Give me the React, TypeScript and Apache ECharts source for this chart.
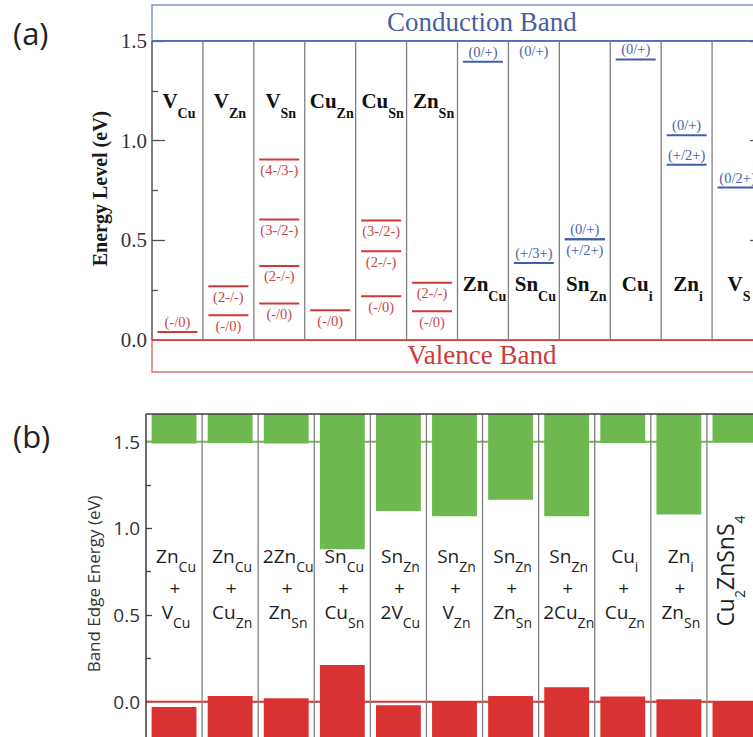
import React, { useEffect, useRef } from 'react';
import * as echarts from 'echarts';

// ---------- (a) isolated intrinsic defects ----------
const defectsA = ['V_{Cu}', 'V_{Zn}', 'V_{Sn}', 'Cu_{Zn}', 'Cu_{Sn}', 'Zn_{Sn}', 'Zn_{Cu}', 'Sn_{Cu}', 'Sn_{Zn}', 'Cu_{i}', 'Zn_{i}', 'V_{S}'];
const defectTypeA = ['acceptor', 'acceptor', 'acceptor', 'acceptor', 'acceptor', 'acceptor', 'donor', 'donor', 'donor', 'donor', 'donor', 'donor'];

// transition levels (eV above the VBM)
const levelDefect = [0, 1, 1, 2, 2, 2, 2, 3, 4, 4, 4, 5, 5, 6, 7, 7, 8, 8, 9, 10, 10, 11];
const levelEnergy = [0.04, 0.27, 0.125, 0.905, 0.605, 0.372, 0.184, 0.15, 0.6, 0.445, 0.22, 0.287, 0.145, 1.395, 1.5, 0.386, 0.505, 0.505, 1.407, 1.027, 0.879, 0.765];
const levelLabel = ['(-/0)', '(2-/-)', '(-/0)', '(4-/3-)', '(3-/2-)', '(2-/-)', '(-/0)', '(-/0)', '(3-/2-)', '(2-/-)', '(-/0)', '(2-/-)', '(-/0)', '(0/+)', '(0/+)', '(+/3+)', '(0/+)', '(+/2+)', '(0/+)', '(0/+)', '(+/2+)', '(0/2+)'];
const levelLabelSide = ['above', 'below', 'below', 'below', 'below', 'below', 'below', 'below', 'below', 'below', 'below', 'below', 'below', 'above', 'below', 'above', 'above', 'below', 'above', 'above', 'above', 'above'];

const bandNamesA = ['Conduction Band', 'Valence Band'];
const bandEdgesA = [1.5, 0.0];
const yTicksA = [0.0, 0.5, 1.0, 1.5];
const yMinorTicksA = [0.25, 0.75, 1.25];

// ---------- (b) defect complexes ----------
const complexesB = ['Zn_{Cu}', 'Zn_{Cu}', '2Zn_{Cu}', 'Sn_{Cu}', 'Sn_{Zn}', 'Sn_{Zn}', 'Sn_{Zn}', 'Sn_{Zn}', 'Cu_{i}', 'Zn_{i}', 'Cu_{2}ZnSnS_{4}'];
const partnersB = ['V_{Cu}', 'Cu_{Zn}', 'Zn_{Sn}', 'Cu_{Sn}', '2V_{Cu}', 'V_{Zn}', 'Zn_{Sn}', '2Cu_{Zn}', 'Cu_{Zn}', 'Zn_{Sn}', ''];
const cbmB = [1.49, 1.492, 1.49, 0.88, 1.1, 1.07, 1.165, 1.07, 1.492, 1.08, 1.5];
const vbmB = [-0.03, 0.033, 0.02, 0.212, -0.02, 0.0, 0.033, 0.083, 0.03, 0.014, 0.0];
const hostEdgesB = [1.5, 0.0];
const yTicksB = [0.0, 0.5, 1.0, 1.5];
const yMinorTicksB = [0.25, 0.75, 1.25];

// ---------- layout & style ----------
const CHART_W = 780;
const CHART_H = 760;
const Y_A = { min: -0.16, max: 1.68 };
const Y_B = { min: -0.3, max: 1.66 };
const ROW_E_A = { acceptor: 1.2, donor: 0.28 };
const ROWS_E_B = [0.84, 0.655, 0.52];
const HOST_LABEL_E = 0.754;

const SERIF = 'Liberation Serif';
const SANS = 'Open Sans';
const RED = '#d03838';
const BLUE = '#3f5fa8';
const RED_TEXT = '#c94646';
const BLUE_TEXT = '#4862a6';
const GREEN = '#6db84f';
const BAR_RED = '#d93232';

type ChemStyle = { family: string; weight: string; size: number; subSize: number; drop: number; color: string };
const CHEM_A: ChemStyle = { family: SERIF, weight: 'bold', size: 21, subSize: 14, drop: 10, color: '#111' };
const CHEM_B: ChemStyle = { family: SANS, weight: 'normal', size: 19, subSize: 14, drop: 9, color: '#1e1e1e' };
const CHEM_HOST: ChemStyle = { family: SANS, weight: 'normal', size: 23, subSize: 14, drop: 11, color: '#1e1e1e' };

let measureCtx: CanvasRenderingContext2D | null = null;
function textWidth(text: string, font: string): number {
  if (!measureCtx) measureCtx = document.createElement('canvas').getContext('2d');
  measureCtx!.font = font;
  return measureCtx!.measureText(text).width;
}

// "Zn_{Cu}" -> [{t:'Zn'}, {t:'Cu', sub:true}]
function parseChem(s: string) {
  const out: { t: string; sub: boolean }[] = [];
  const re = /_\{([^}]*)\}/g;
  let last = 0;
  let m: RegExpExecArray | null;
  while ((m = re.exec(s))) {
    if (m.index > last) out.push({ t: s.slice(last, m.index), sub: false });
    out.push({ t: m[1], sub: true });
    last = re.lastIndex;
  }
  if (last < s.length) out.push({ t: s.slice(last), sub: false });
  return out;
}

function textStyle(text: string, size: number, family: string, weight: string, fill: string, align = 'center') {
  return {
    text,
    fill,
    fontSize: size,
    fontFamily: family,
    fontWeight: weight,
    align,
    textAlign: align,
    verticalAlign: 'middle',
    textVerticalAlign: 'middle',
  };
}

// chemical label centred on (cx, cy); cy is the middle of the main glyphs
function chemGroup(label: string, cx: number, cy: number, st: ChemStyle, rotation = 0) {
  const segs = parseChem(label);
  const mainFont = `${st.weight} ${st.size}px "${st.family}"`;
  const subFont = `${st.weight} ${st.subSize}px "${st.family}"`;
  const widths = segs.map((sg) => textWidth(sg.t, sg.sub ? subFont : mainFont));
  const total = widths.reduce((a, b) => a + b, 0);
  let x = -total / 2;
  const subY = st.size * 0.35 + st.drop - st.subSize * 0.35;
  const children = segs.map((sg, k) => {
    const el = {
      type: 'text',
      x,
      y: sg.sub ? subY : 0,
      style: textStyle(sg.t, sg.sub ? st.subSize : st.size, st.family, st.weight, st.color, 'left'),
    };
    x += widths[k];
    return el;
  });
  return { type: 'group', x: cx, y: cy, rotation, children };
}

// ---------- render functions: panel (a) ----------
const renderBandsA = (params: any, api: any) => {
  const k = params.dataIndex;
  const edge = bandEdgesA[k];
  const isCb = k === 0;
  const n = defectsA.length;
  const [x0, yEdge] = api.coord([0, edge]);
  const [x1, yOuter] = api.coord([n, isCb ? Y_A.max : Y_A.min]);
  const top = Math.min(yEdge, yOuter);
  const h = Math.abs(yOuter - yEdge);
  const boxColor = isCb ? '#8095c8' : '#e07272';
  const edgeColor = isCb ? '#4f6db2' : '#d04444';
  const textPos = api.coord([n * 0.54, edge]);
  return {
    type: 'group',
    children: [
      { type: 'rect', shape: { x: x0, y: top, width: x1 - x0, height: h }, style: { fill: '#fff', stroke: boxColor, lineWidth: 1.5 } },
      { type: 'line', shape: { x1: x0, y1: yEdge, x2: x1, y2: yEdge }, style: { stroke: edgeColor, lineWidth: 1.6 } },
      {
        type: 'text',
        x: textPos[0],
        y: top + h / 2 - 1,
        style: textStyle(bandNamesA[k], 27, SERIF, 'normal', isCb ? '#46609f' : '#cc3a3a'),
      },
    ],
  };
};

const renderDividersA = (params: any, api: any) => {
  const b = params.dataIndex;
  const [x, y0] = api.coord([b, bandEdgesA[1]]);
  const [, y1] = api.coord([b, bandEdgesA[0]]);
  return {
    type: 'line',
    shape: { x1: x, y1: y0, x2: x, y2: y1 },
    style: { stroke: b === 0 ? '#555' : '#808080', lineWidth: b === 0 ? 1.5 : 1.3 },
  };
};

const renderLevelsA = (params: any, api: any) => {
  const j = params.dataIndex;
  const d = levelDefect[j];
  const E = levelEnergy[j];
  const donor = defectTypeA[d] === 'donor';
  const [cx, cy] = api.coord([d + 0.5, E]);
  const children: any[] = [];
  if (E > bandEdgesA[1] && E < bandEdgesA[0]) {
    children.push({
      type: 'line',
      shape: { x1: cx - 20, y1: cy, x2: cx + 20, y2: cy },
      style: { stroke: donor ? BLUE : RED, lineWidth: 2 },
    });
  }
  const dy = levelLabelSide[j] === 'above' ? -10 : 10.5;
  children.push({
    type: 'text',
    x: cx,
    y: cy + dy,
    style: textStyle(levelLabel[j], 14.5, SERIF, 'normal', donor ? BLUE_TEXT : RED_TEXT),
  });
  return { type: 'group', children };
};

const renderDefectLabelsA = (params: any, api: any) => {
  const i = params.dataIndex;
  const rowE = defectTypeA[i] === 'acceptor' ? ROW_E_A.acceptor : ROW_E_A.donor;
  const [cx, cy] = api.coord([i + 0.5, rowE]);
  return chemGroup(defectsA[i], cx + 1.5, cy, CHEM_A);
};

// ---------- render functions: panel (b) ----------
const renderHostEdgesB = (params: any, api: any) => {
  const k = params.dataIndex;
  const E = hostEdgesB[k];
  const [x1, y] = api.coord([0, E]);
  const [x2] = api.coord([complexesB.length, E]);
  return { type: 'line', shape: { x1, y1: y, x2, y2: y }, style: { stroke: k === 0 ? GREEN : BAR_RED, lineWidth: 2 } };
};

const renderBarsB = (params: any, api: any) => {
  const i = params.dataIndex;
  const [xl, yTop] = api.coord([i + 0.1, Y_B.max]);
  const [xr, yC] = api.coord([i + 0.9, cbmB[i]]);
  const [, yV] = api.coord([i, vbmB[i]]);
  const [, yBot] = api.coord([i, Y_B.min]);
  return {
    type: 'group',
    children: [
      { type: 'rect', shape: { x: xl, y: yTop, width: xr - xl, height: yC - yTop }, style: { fill: GREEN } },
      { type: 'rect', shape: { x: xl, y: yV, width: xr - xl, height: yBot - yV }, style: { fill: BAR_RED } },
    ],
  };
};

const renderDividersB = (params: any, api: any) => {
  const b = params.dataIndex + 1;
  const [x, y0] = api.coord([b, Y_B.min]);
  const [, y1] = api.coord([b, Y_B.max]);
  return { type: 'line', shape: { x1: x, y1: y0, x2: x, y2: y1 }, style: { stroke: '#808080', lineWidth: 1.3 } };
};

const renderFrameB = (_params: any, api: any) => {
  const n = complexesB.length;
  const [x0, yT] = api.coord([0, Y_B.max]);
  const [x1, yB] = api.coord([n, Y_B.min]);
  const st = { stroke: '#3c3c3c', lineWidth: 1.5 };
  return {
    type: 'group',
    children: [
      { type: 'line', shape: { x1: x0, y1: yT, x2: x1, y2: yT }, style: st },
      { type: 'line', shape: { x1: x0, y1: yT, x2: x0, y2: yB }, style: st },
      { type: 'line', shape: { x1: x1, y1: yT, x2: x1, y2: yB }, style: st },
    ],
  };
};

const renderComplexLabelsB = (params: any, api: any) => {
  const i = params.dataIndex;
  const cx = api.coord([i + 0.5, 0])[0];
  if (!partnersB[i]) {
    const cy = api.coord([i + 0.5, HOST_LABEL_E])[1];
    return chemGroup(complexesB[i], cx - 10, cy, CHEM_HOST, Math.PI / 2);
  }
  const ys = ROWS_E_B.map((E) => api.coord([i + 0.5, E])[1]);
  return {
    type: 'group',
    children: [
      chemGroup(complexesB[i], cx + 2, ys[0], CHEM_B),
      { type: 'text', x: cx + 1, y: ys[1], style: textStyle('+', 19, SANS, 'normal', '#1e1e1e') },
      chemGroup(partnersB[i], cx + 2, ys[2], CHEM_B),
    ],
  };
};

const idx = (n: number) => Array.from({ length: n }, (_, i) => [i, 0]);

function buildOption() {
  const tickLabel = (v: number) => v.toFixed(1);
  const common = { type: 'value', splitLine: { show: false }, axisLine: { show: false } };
  return {
    animation: false,
    backgroundColor: '#fff',
    grid: [
      { left: 152, top: 5, width: 611, height: 367 },
      { left: 146, top: 414, width: 617, height: 339.7 },
    ],
    xAxis: [
      { gridIndex: 0, type: 'value', min: 0, max: defectsA.length, show: false },
      { gridIndex: 1, type: 'value', min: 0, max: complexesB.length, show: false },
    ],
    yAxis: [
      {
        ...common,
        gridIndex: 0,
        min: Y_A.min,
        max: Y_A.max,
        position: 'left',
        name: 'Energy Level (eV)',
        nameLocation: 'middle',
        nameGap: 42,
        nameTextStyle: { fontFamily: SERIF, fontWeight: 'bold', fontSize: 20, color: '#1a1a1a' },
        axisTick: { inside: true, length: 13, customValues: yTicksA, lineStyle: { color: '#555', width: 1.3 } },
        axisLabel: { customValues: yTicksA, formatter: tickLabel, fontFamily: SERIF, fontSize: 21, color: '#333', margin: 5 },
      },
      {
        ...common,
        gridIndex: 0,
        min: Y_A.min,
        max: Y_A.max,
        position: 'left',
        axisTick: { inside: true, length: 6, customValues: yMinorTicksA, lineStyle: { color: '#555', width: 1.3 } },
        axisLabel: { show: false },
      },
      {
        ...common,
        gridIndex: 0,
        min: Y_A.min,
        max: Y_A.max,
        position: 'right',
        axisTick: { inside: true, length: 13, customValues: yTicksA, lineStyle: { color: '#555', width: 1.3 } },
        axisLabel: { show: false },
      },
      {
        ...common,
        gridIndex: 1,
        min: Y_B.min,
        max: Y_B.max,
        position: 'left',
        name: 'Band Edge Energy (eV)',
        nameLocation: 'middle',
        nameGap: 36,
        nameTextStyle: { fontFamily: SANS, fontSize: 17, color: '#333' },
        axisTick: { inside: true, length: 6, customValues: yTicksB, lineStyle: { color: '#444', width: 1.3 } },
        axisLabel: { customValues: yTicksB, formatter: tickLabel, fontFamily: SANS, fontSize: 19, color: '#333', margin: 6 },
      },
      {
        ...common,
        gridIndex: 1,
        min: Y_B.min,
        max: Y_B.max,
        position: 'left',
        axisTick: { inside: true, length: 5, customValues: yMinorTicksB, lineStyle: { color: '#444', width: 1.3 } },
        axisLabel: { show: false },
      },
    ],
    graphic: [
      { type: 'text', x: 13, y: 33, style: textStyle('(a)', 31, SANS, 'normal', '#222', 'left') },
      { type: 'text', x: 13, y: 436, style: textStyle('(b)', 31, SANS, 'normal', '#222', 'left') },
    ],
    series: [
      { type: 'custom', xAxisIndex: 0, yAxisIndex: 0, z: 2, silent: true, data: idx(bandNamesA.length), renderItem: renderBandsA },
      { type: 'custom', xAxisIndex: 0, yAxisIndex: 0, z: 3, silent: true, data: idx(defectsA.length + 1), renderItem: renderDividersA },
      { type: 'custom', xAxisIndex: 0, yAxisIndex: 0, z: 4, silent: true, data: idx(levelEnergy.length), renderItem: renderLevelsA },
      { type: 'custom', xAxisIndex: 0, yAxisIndex: 0, z: 5, silent: true, data: idx(defectsA.length), renderItem: renderDefectLabelsA },
      { type: 'custom', xAxisIndex: 1, yAxisIndex: 3, z: 1, silent: true, data: idx(hostEdgesB.length), renderItem: renderHostEdgesB },
      { type: 'custom', xAxisIndex: 1, yAxisIndex: 3, z: 2, silent: true, data: idx(complexesB.length), renderItem: renderBarsB },
      { type: 'custom', xAxisIndex: 1, yAxisIndex: 3, z: 3, silent: true, data: idx(complexesB.length - 1), renderItem: renderDividersB },
      { type: 'custom', xAxisIndex: 1, yAxisIndex: 3, z: 4, silent: true, data: idx(1), renderItem: renderFrameB },
      { type: 'custom', xAxisIndex: 1, yAxisIndex: 3, z: 5, silent: true, data: idx(complexesB.length), renderItem: renderComplexLabelsB },
    ],
  };
}

export default function App() {
  const ref = useRef<HTMLDivElement>(null);
  useEffect(() => {
    if (!ref.current) return;
    const chart = echarts.init(ref.current, undefined, { renderer: 'svg' });
    chart.setOption(buildOption() as any);
    return () => chart.dispose();
  }, []);
  return (
    <div style={{ position: 'fixed', left: 0, top: 0, width: 753, height: 737, overflow: 'hidden', background: '#fff' }}>
      <div ref={ref} style={{ width: CHART_W, height: CHART_H }} />
    </div>
  );
}
